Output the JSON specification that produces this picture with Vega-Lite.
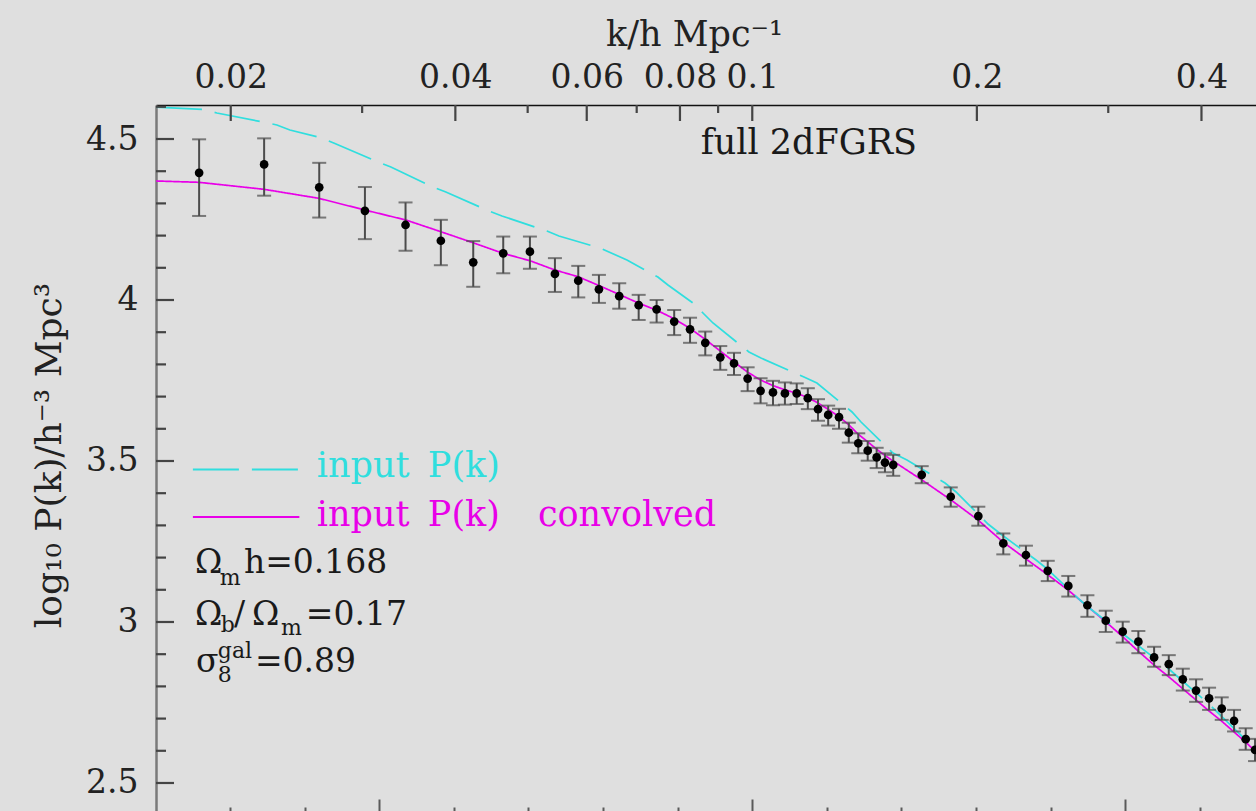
{
  "$schema": "https://vega.github.io/schema/vega-lite/v6.json",
  "width": 1100,
  "height": 706,
  "autosize": {"type": "none"},
  "padding": {"left": 156, "top": 105, "right": 0, "bottom": 0},
  "background": "#dfdfdf",
  "config": {
    "view": {"stroke": null},
    "axis": {
      "grid": false,
      "labelFont": "DejaVu Serif",
      "titleFont": "DejaVu Serif",
      "labelColor": "#222222",
      "titleColor": "#222222",
      "titleFontWeight": "normal",
      "tickColor": "#5a5a5a",
      "tickWidth": 2,
      "labelOverlap": false,
      "labelFlush": false,
      "labelBound": false
    }
  },
  "datasets": {
    "topMajor": [{"k": 0.02}, {"k": 0.04}, {"k": 0.06}, {"k": 0.08}, {"k": 0.1}, {"k": 0.2}, {"k": 0.4}],
    "topMinor": [{"k": 0.03}, {"k": 0.05}, {"k": 0.07}, {"k": 0.09}, {"k": 0.3}],
    "leftMajor": [{"v": 2.5}, {"v": 3}, {"v": 3.5}, {"v": 4}, {"v": 4.5}],
    "leftMinor": [{"v": 2.6}, {"v": 2.7}, {"v": 2.8}, {"v": 2.9}, {"v": 3.1}, {"v": 3.2}, {"v": 3.3}, {"v": 3.4}, {"v": 3.6}, {"v": 3.7}, {"v": 3.8}, {"v": 3.9}, {"v": 4.1}, {"v": 4.2}, {"v": 4.3}, {"v": 4.4}, {"v": 4.6}],
    "pk": [
      {"k": 0.01814, "p": 4.395, "lo": 4.261, "hi": 4.499},
      {"k": 0.02217, "p": 4.421, "lo": 4.324, "hi": 4.502},
      {"k": 0.02628, "p": 4.350, "lo": 4.256, "hi": 4.426},
      {"k": 0.03026, "p": 4.277, "lo": 4.189, "hi": 4.351},
      {"k": 0.03430, "p": 4.233, "lo": 4.153, "hi": 4.303},
      {"k": 0.03825, "p": 4.184, "lo": 4.108, "hi": 4.249},
      {"k": 0.04227, "p": 4.117, "lo": 4.041, "hi": 4.183},
      {"k": 0.04637, "p": 4.145, "lo": 4.083, "hi": 4.197},
      {"k": 0.05035, "p": 4.150, "lo": 4.097, "hi": 4.197},
      {"k": 0.05439, "p": 4.081, "lo": 4.025, "hi": 4.130},
      {"k": 0.05845, "p": 4.060, "lo": 4.008, "hi": 4.106},
      {"k": 0.06230, "p": 4.033, "lo": 3.991, "hi": 4.078},
      {"k": 0.06633, "p": 4.012, "lo": 3.973, "hi": 4.052},
      {"k": 0.07043, "p": 3.984, "lo": 3.938, "hi": 4.016},
      {"k": 0.07444, "p": 3.971, "lo": 3.930, "hi": 4.000},
      {"k": 0.07859, "p": 3.933, "lo": 3.891, "hi": 3.969},
      {"k": 0.08253, "p": 3.909, "lo": 3.867, "hi": 3.945},
      {"k": 0.08650, "p": 3.867, "lo": 3.828, "hi": 3.902},
      {"k": 0.09060, "p": 3.822, "lo": 3.783, "hi": 3.857},
      {"k": 0.09452, "p": 3.803, "lo": 3.767, "hi": 3.836},
      {"k": 0.09858, "p": 3.756, "lo": 3.717, "hi": 3.791},
      {"k": 0.1026, "p": 3.718, "lo": 3.679, "hi": 3.757},
      {"k": 0.1066, "p": 3.713, "lo": 3.673, "hi": 3.749},
      {"k": 0.1106, "p": 3.710, "lo": 3.675, "hi": 3.744},
      {"k": 0.1147, "p": 3.710, "lo": 3.677, "hi": 3.741},
      {"k": 0.1187, "p": 3.695, "lo": 3.661, "hi": 3.726},
      {"k": 0.1225, "p": 3.661, "lo": 3.625, "hi": 3.692},
      {"k": 0.1264, "p": 3.643, "lo": 3.610, "hi": 3.672},
      {"k": 0.1307, "p": 3.636, "lo": 3.600, "hi": 3.662},
      {"k": 0.1347, "p": 3.588, "lo": 3.557, "hi": 3.619},
      {"k": 0.1387, "p": 3.555, "lo": 3.524, "hi": 3.586},
      {"k": 0.1428, "p": 3.532, "lo": 3.501, "hi": 3.562},
      {"k": 0.1468, "p": 3.511, "lo": 3.478, "hi": 3.541},
      {"k": 0.1506, "p": 3.495, "lo": 3.465, "hi": 3.524},
      {"k": 0.1545, "p": 3.488, "lo": 3.454, "hi": 3.519},
      {"k": 0.1687, "p": 3.457, "lo": 3.431, "hi": 3.484},
      {"k": 0.1845, "p": 3.389, "lo": 3.358, "hi": 3.418},
      {"k": 0.2009, "p": 3.329, "lo": 3.299, "hi": 3.358},
      {"k": 0.2170, "p": 3.244, "lo": 3.210, "hi": 3.275},
      {"k": 0.2327, "p": 3.208, "lo": 3.175, "hi": 3.237},
      {"k": 0.2489, "p": 3.159, "lo": 3.127, "hi": 3.190},
      {"k": 0.2652, "p": 3.112, "lo": 3.079, "hi": 3.143},
      {"k": 0.2813, "p": 3.052, "lo": 3.016, "hi": 3.083},
      {"k": 0.2977, "p": 3.004, "lo": 2.969, "hi": 3.035},
      {"k": 0.3137, "p": 2.970, "lo": 2.936, "hi": 3.001},
      {"k": 0.3292, "p": 2.939, "lo": 2.903, "hi": 2.972},
      {"k": 0.3456, "p": 2.890, "lo": 2.861, "hi": 2.923},
      {"k": 0.3616, "p": 2.869, "lo": 2.835, "hi": 2.897},
      {"k": 0.3776, "p": 2.822, "lo": 2.787, "hi": 2.855},
      {"k": 0.3934, "p": 2.787, "lo": 2.752, "hi": 2.822},
      {"k": 0.4095, "p": 2.763, "lo": 2.727, "hi": 2.796},
      {"k": 0.4258, "p": 2.731, "lo": 2.696, "hi": 2.766},
      {"k": 0.4423, "p": 2.693, "lo": 2.660, "hi": 2.727},
      {"k": 0.4585, "p": 2.636, "lo": 2.603, "hi": 2.670},
      {"k": 0.4719, "p": 2.603, "lo": 2.568, "hi": 2.637}
    ],
    "curves": [
      {"series": "input P(k) convolved", "k": 0.01588, "v": 4.3696},
      {"series": "input P(k) convolved", "k": 0.018127, "v": 4.3655},
      {"series": "input P(k) convolved", "k": 0.022154, "v": 4.3438},
      {"series": "input P(k) convolved", "k": 0.026248, "v": 4.3158},
      {"series": "input P(k) convolved", "k": 0.030255, "v": 4.2795},
      {"series": "input P(k) convolved", "k": 0.034343, "v": 4.2484},
      {"series": "input P(k) convolved", "k": 0.038246, "v": 4.2121},
      {"series": "input P(k) convolved", "k": 0.042227, "v": 4.1780},
      {"series": "input P(k) convolved", "k": 0.046329, "v": 4.1450},
      {"series": "input P(k) convolved", "k": 0.05035, "v": 4.1220},
      {"series": "input P(k) convolved", "k": 0.054388, "v": 4.0932},
      {"series": "input P(k) convolved", "k": 0.058405, "v": 4.0724},
      {"series": "input P(k) convolved", "k": 0.062509, "v": 4.0435},
      {"series": "input P(k) convolved", "k": 0.070483, "v": 3.9900},
      {"series": "input P(k) convolved", "k": 0.074501, "v": 3.9680},
      {"series": "input P(k) convolved", "k": 0.078537, "v": 3.9420},
      {"series": "input P(k) convolved", "k": 0.082508, "v": 3.9120},
      {"series": "input P(k) convolved", "k": 0.086458, "v": 3.8780},
      {"series": "input P(k) convolved", "k": 0.09055, "v": 3.8420},
      {"series": "input P(k) convolved", "k": 0.09451, "v": 3.8080},
      {"series": "input P(k) convolved", "k": 0.098682, "v": 3.7750},
      {"series": "input P(k) convolved", "k": 0.10272, "v": 3.7510},
      {"series": "input P(k) convolved", "k": 0.10660, "v": 3.7340},
      {"series": "input P(k) convolved", "k": 0.11062, "v": 3.7210},
      {"series": "input P(k) convolved", "k": 0.11479, "v": 3.7100},
      {"series": "input P(k) convolved", "k": 0.11875, "v": 3.6970},
      {"series": "input P(k) convolved", "k": 0.12247, "v": 3.6800},
      {"series": "input P(k) convolved", "k": 0.12631, "v": 3.6610},
      {"series": "input P(k) convolved", "k": 0.13067, "v": 3.6380},
      {"series": "input P(k) convolved", "k": 0.13477, "v": 3.6120},
      {"series": "input P(k) convolved", "k": 0.13857, "v": 3.5839},
      {"series": "input P(k) convolved", "k": 0.14291, "v": 3.5590},
      {"series": "input P(k) convolved", "k": 0.14694, "v": 3.5357},
      {"series": "input P(k) convolved", "k": 0.15061, "v": 3.5171},
      {"series": "input P(k) convolved", "k": 0.15437, "v": 3.5000},
      {"series": "input P(k) convolved", "k": 0.16883, "v": 3.4410},
      {"series": "input P(k) convolved", "k": 0.18466, "v": 3.3789},
      {"series": "input P(k) convolved", "k": 0.20068, "v": 3.3168},
      {"series": "input P(k) convolved", "k": 0.21680, "v": 3.2484},
      {"series": "input P(k) convolved", "k": 0.23275, "v": 3.1957},
      {"series": "input P(k) convolved", "k": 0.24914, "v": 3.1460},
      {"series": "input P(k) convolved", "k": 0.26497, "v": 3.0994},
      {"series": "input P(k) convolved", "k": 0.28097, "v": 3.0497},
      {"series": "input P(k) convolved", "k": 0.29794, "v": 3.0000},
      {"series": "input P(k) convolved", "k": 0.31400, "v": 2.9534},
      {"series": "input P(k) convolved", "k": 0.32888, "v": 2.9099},
      {"series": "input P(k) convolved", "k": 0.34551, "v": 2.8665},
      {"series": "input P(k) convolved", "k": 0.36188, "v": 2.8292},
      {"series": "input P(k) convolved", "k": 0.37788, "v": 2.7919},
      {"series": "input P(k) convolved", "k": 0.39334, "v": 2.7578},
      {"series": "input P(k) convolved", "k": 0.40945, "v": 2.7236},
      {"series": "input P(k) convolved", "k": 0.42620, "v": 2.6910},
      {"series": "input P(k) convolved", "k": 0.44230, "v": 2.6584},
      {"series": "input P(k) convolved", "k": 0.45900, "v": 2.6258},
      {"series": "input P(k) convolved", "k": 0.4733, "v": 2.5963},
      {"series": "input P(k)", "k": 0.01588, "v": 4.5990},
      {"series": "input P(k)", "k": 0.018353, "v": 4.5916},
      {"series": "input P(k)", "k": 0.01916, "v": 4.5807},
      {"series": "input P(k)", "k": 0.022085, "v": 4.5528},
      {"series": "input P(k)", "k": 0.023061, "v": 4.5435},
      {"series": "input P(k)", "k": 0.024005, "v": 4.5280},
      {"series": "input P(k)", "k": 0.0265, "v": 4.5031},
      {"series": "input P(k)", "k": 0.027582, "v": 4.4860},
      {"series": "input P(k)", "k": 0.031499, "v": 4.4286},
      {"series": "input P(k)", "k": 0.032785, "v": 4.4130},
      {"series": "input P(k)", "k": 0.037315, "v": 4.3509},
      {"series": "input P(k)", "k": 0.038844, "v": 4.3354},
      {"series": "input P(k)", "k": 0.044365, "v": 4.2764},
      {"series": "input P(k)", "k": 0.046185, "v": 4.2609},
      {"series": "input P(k)", "k": 0.053064, "v": 4.2143},
      {"series": "input P(k)", "k": 0.055064, "v": 4.1988},
      {"series": "input P(k)", "k": 0.062509, "v": 4.1615},
      {"series": "input P(k)", "k": 0.067925, "v": 4.1242},
      {"series": "input P(k)", "k": 0.074731, "v": 4.0714},
      {"series": "input P(k)", "k": 0.07709, "v": 4.0466},
      {"series": "input P(k)", "k": 0.083275, "v": 3.9907},
      {"series": "input P(k)", "k": 0.085885, "v": 3.9596},
      {"series": "input P(k)", "k": 0.08858, "v": 3.9286},
      {"series": "input P(k)", "k": 0.098987, "v": 3.8385},
      {"series": "input P(k)", "k": 0.10272, "v": 3.8199},
      {"series": "input P(k)", "k": 0.11730, "v": 3.7609},
      {"series": "input P(k)", "k": 0.12209, "v": 3.7422},
      {"series": "input P(k)", "k": 0.13605, "v": 3.6522},
      {"series": "input P(k)", "k": 0.13989, "v": 3.6211},
      {"series": "input P(k)", "k": 0.15437, "v": 3.5248},
      {"series": "input P(k)", "k": 0.16119, "v": 3.5031},
      {"series": "input P(k)", "k": 0.18127, "v": 3.4317},
      {"series": "input P(k)", "k": 0.18756, "v": 3.4037},
      {"series": "input P(k)", "k": 0.20699, "v": 3.3043},
      {"series": "input P(k)", "k": 0.21614, "v": 3.2702},
      {"series": "input P(k)", "k": 0.24005, "v": 3.1925},
      {"series": "input P(k)", "k": 0.2476, "v": 3.1677},
      {"series": "input P(k)", "k": 0.27497, "v": 3.0683},
      {"series": "input P(k)", "k": 0.28184, "v": 3.0466},
      {"series": "input P(k)", "k": 0.31789, "v": 2.9534},
      {"series": "input P(k)", "k": 0.36299, "v": 2.8509},
      {"series": "input P(k)", "k": 0.41071, "v": 2.7422},
      {"series": "input P(k)", "k": 0.4733, "v": 2.6025}
    ],
    "leg": [
      {"series": "input P(k)", "k": 0.017795, "v": 3.4736},
      {"series": "input P(k)", "k": 0.024717, "v": 3.4736},
      {"series": "input P(k) convolved", "k": 0.017795, "v": 3.3261},
      {"series": "input P(k) convolved", "k": 0.024717, "v": 3.3261}
    ],
    "tleg": [
      {"series": "input P(k)", "k": 0.026087, "v": 3.4503, "t": "input"},
      {"series": "input P(k)", "k": 0.036745, "v": 3.4503, "t": "P(k)"},
      {"series": "input P(k) convolved", "k": 0.026087, "v": 3.2981, "t": "input"},
      {"series": "input P(k) convolved", "k": 0.036745, "v": 3.2981, "t": "P(k)"},
      {"series": "input P(k) convolved", "k": 0.051608, "v": 3.2981, "t": "convolved"}
    ],
    "tmain": [
      {"k": 0.017906, "v": 3.1522, "t": "Ω"},
      {"k": 0.020828, "v": 3.1522, "t": "h=0.168"},
      {"k": 0.017906, "v": 2.9907, "t": "Ω"},
      {"k": 0.020195, "v": 2.9907, "t": "/"},
      {"k": 0.021349, "v": 2.9907, "t": "Ω"},
      {"k": 0.025215, "v": 2.9907, "t": "=0.17"},
      {"k": 0.01796, "v": 2.8447, "t": "σ"},
      {"k": 0.021548, "v": 2.8447, "t": "=0.89"}
    ],
    "tsmall": [
      {"k": 0.019339, "v": 3.1149, "t": "m"},
      {"k": 0.019399, "v": 2.9689, "t": "b"},
      {"k": 0.023348, "v": 2.9596, "t": "m"},
      {"k": 0.019221, "v": 2.8882, "t": "gal"},
      {"k": 0.019221, "v": 2.8137, "t": "8"}
    ],
    "ttitle": [
      {"k": 0.11912, "v": 4.4534, "t": "full 2dFGRS"}
    ]
  },
  "resolve": {"axis": {"x": "independent", "y": "independent"}},
  "layer": [
    {
      "data": {"name": "curves"},
      "mark": {"type": "line", "strokeWidth": 1.7, "clip": true},
      "encoding": {
        "x": {"field": "k", "type": "quantitative",
          "scale": {"type": "log", "domain": [0.01588, 0.4733], "nice": false},
          "axis": {"orient": "top", "values": [0.02, 0.04, 0.06, 0.08, 0.1, 0.2, 0.4], "format": "~g",
            "ticks": false, "labelPadding": 18, "labelBaseline": "alphabetic", "labelFontSize": 33,
            "domain": true, "domainColor": "#111111", "domainWidth": 1.5,
            "title": "k/h Mpc⁻¹", "titleFontSize": 35, "titleX": 538, "titleY": -60,
            "titleAlign": "center", "titleBaseline": "alphabetic", "titleAngle": 0}},
        "y": {"field": "v", "type": "quantitative",
          "scale": {"domain": [2.413, 4.6056], "nice": false, "zero": false},
          "axis": {"orient": "left", "values": [2.5, 3, 3.5, 4, 4.5], "format": "~g",
            "ticks": false, "labelPadding": 18, "labelFontSize": 33, "labelBaseline": "middle", "labelAlign": "right",
            "domain": true, "domainColor": "#7a7a7a", "domainWidth": 2.5,
            "title": "log₁₀ P(k)/h⁻³ Mpc³", "titleFontSize": 36, "titleX": -96, "titleY": 350,
            "titleAngle": 270, "titleAlign": "center", "titleBaseline": "alphabetic"}},
        "color": {"field": "series", "type": "nominal",
          "scale": {"domain": ["input P(k)", "input P(k) convolved"], "range": ["#30dede", "#e800e8"]}, "legend": null},
        "strokeDash": {"field": "series", "type": "nominal",
          "scale": {"domain": ["input P(k)", "input P(k) convolved"], "range": [[46, 13], [1, 0]]}, "legend": null}
      }
    },
    {
      "data": {"name": "leg"},
      "mark": {"type": "line", "strokeWidth": 2},
      "encoding": {
        "x": {"field": "k", "type": "quantitative",
          "scale": {"type": "log", "domain": [0.01588, 0.4733], "nice": false}, "axis": null},
        "y": {"field": "v", "type": "quantitative",
          "scale": {"domain": [2.413, 4.6056], "nice": false, "zero": false}, "axis": null},
        "color": {"field": "series", "type": "nominal",
          "scale": {"domain": ["input P(k)", "input P(k) convolved"], "range": ["#30dede", "#e800e8"]}, "legend": null},
        "strokeDash": {"field": "series", "type": "nominal",
          "scale": {"domain": ["input P(k)", "input P(k) convolved"], "range": [[49, 12], [1, 0]]}, "legend": null}
      }
    },
    {
      "data": {"name": "pk"},
      "mark": {"type": "errorbar", "ticks": true, "size": 14, "thickness": 2, "color": "#4c4c4c"},
      "encoding": {
        "x": {"field": "k", "type": "quantitative",
          "scale": {"type": "log", "domain": [0.01588, 0.4733], "nice": false}, "axis": null},
        "y": {"field": "lo", "type": "quantitative",
          "scale": {"domain": [2.413, 4.6056], "nice": false, "zero": false}, "axis": null},
        "y2": {"field": "hi"}
      }
    },
    {
      "data": {"name": "pk"},
      "mark": {"type": "circle", "size": 76, "color": "#000000", "opacity": 1},
      "encoding": {
        "x": {"field": "k", "type": "quantitative",
          "scale": {"type": "log", "domain": [0.01588, 0.4733], "nice": false}, "axis": null},
        "y": {"field": "p", "type": "quantitative",
          "scale": {"domain": [2.413, 4.6056], "nice": false, "zero": false}, "axis": null}
      }
    },
    {
      "data": {"name": "tmain"},
      "mark": {"type": "text", "font": "DejaVu Serif", "fontSize": 33, "align": "left", "baseline": "alphabetic", "color": "#1a1a1a"},
      "encoding": {
        "x": {"field": "k", "type": "quantitative",
          "scale": {"type": "log", "domain": [0.01588, 0.4733], "nice": false},
          "axis": {"orient": "bottom", "values": [0.0316228, 0.1, 0.316228],
            "labels": false, "domain": false, "tickSize": -12, "title": null}},
        "y": {"field": "v", "type": "quantitative",
          "scale": {"domain": [2.413, 4.6056], "nice": false, "zero": false}, "axis": null},
        "text": {"field": "t"}
      }
    },
    {
      "data": {"name": "tsmall"},
      "mark": {"type": "text", "font": "DejaVu Serif", "fontSize": 22, "align": "left", "baseline": "alphabetic", "color": "#1a1a1a"},
      "encoding": {
        "x": {"field": "k", "type": "quantitative",
          "scale": {"type": "log", "domain": [0.01588, 0.4733], "nice": false},
          "axis": {"orient": "bottom", "values": [0.0199526, 0.0251189, 0.0398107, 0.0501187, 0.0630957, 0.0794328, 0.125893, 0.158489, 0.199526, 0.251189, 0.398107],
            "labels": false, "domain": false, "tickSize": -4, "title": null}},
        "y": {"field": "v", "type": "quantitative",
          "scale": {"domain": [2.413, 4.6056], "nice": false, "zero": false}, "axis": null},
        "text": {"field": "t"}
      }
    },
    {
      "data": {"name": "tleg"},
      "mark": {"type": "text", "font": "DejaVu Serif", "fontSize": 35, "align": "left", "baseline": "alphabetic"},
      "encoding": {
        "x": {"field": "k", "type": "quantitative",
          "scale": {"type": "log", "domain": [0.01588, 0.4733], "nice": false}, "axis": null},
        "y": {"field": "v", "type": "quantitative",
          "scale": {"domain": [2.413, 4.6056], "nice": false, "zero": false}, "axis": null},
        "color": {"field": "series", "type": "nominal",
          "scale": {"domain": ["input P(k)", "input P(k) convolved"], "range": ["#30dede", "#e800e8"]}, "legend": null},
        "text": {"field": "t"}
      }
    },
    {
      "data": {"name": "ttitle"},
      "mark": {"type": "text", "font": "DejaVu Serif", "fontSize": 35, "align": "center", "baseline": "alphabetic", "color": "#1a1a1a"},
      "encoding": {
        "x": {"field": "k", "type": "quantitative",
          "scale": {"type": "log", "domain": [0.01588, 0.4733], "nice": false}, "axis": null},
        "y": {"field": "v", "type": "quantitative",
          "scale": {"domain": [2.413, 4.6056], "nice": false, "zero": false}, "axis": null},
        "text": {"field": "t"}
      }
    },
    {
      "data": {"name": "topMajor"},
      "mark": {"type": "rule", "color": "#444444", "strokeWidth": 2.2},
      "encoding": {
        "x": {"field": "k", "type": "quantitative",
          "scale": {"type": "log", "domain": [0.01588, 0.4733], "nice": false}, "axis": null},
        "y": {"datum": 4.6056, "type": "quantitative",
          "scale": {"domain": [2.413, 4.6056], "nice": false, "zero": false}, "axis": null},
        "y2": {"datum": 4.5559}
      }
    },
    {
      "data": {"name": "topMinor"},
      "mark": {"type": "rule", "color": "#444444", "strokeWidth": 2.2},
      "encoding": {
        "x": {"field": "k", "type": "quantitative",
          "scale": {"type": "log", "domain": [0.01588, 0.4733], "nice": false}, "axis": null},
        "y": {"datum": 4.6056, "type": "quantitative",
          "scale": {"domain": [2.413, 4.6056], "nice": false, "zero": false}, "axis": null},
        "y2": {"datum": 4.5808}
      }
    },
    {
      "data": {"name": "leftMajor"},
      "mark": {"type": "rule", "color": "#444444", "strokeWidth": 2.2},
      "encoding": {
        "y": {"field": "v", "type": "quantitative",
          "scale": {"domain": [2.413, 4.6056], "nice": false, "zero": false}, "axis": null},
        "x": {"datum": 0.01588, "type": "quantitative",
          "scale": {"type": "log", "domain": [0.01588, 0.4733], "nice": false}, "axis": null},
        "x2": {"datum": 0.016787}
      }
    },
    {
      "data": {"name": "leftMinor"},
      "mark": {"type": "rule", "color": "#444444", "strokeWidth": 2.2},
      "encoding": {
        "y": {"field": "v", "type": "quantitative",
          "scale": {"domain": [2.413, 4.6056], "nice": false, "zero": false}, "axis": null},
        "x": {"datum": 0.01588, "type": "quantitative",
          "scale": {"type": "log", "domain": [0.01588, 0.4733], "nice": false}, "axis": null},
        "x2": {"datum": 0.016379}
      }
    }
  ]
}
